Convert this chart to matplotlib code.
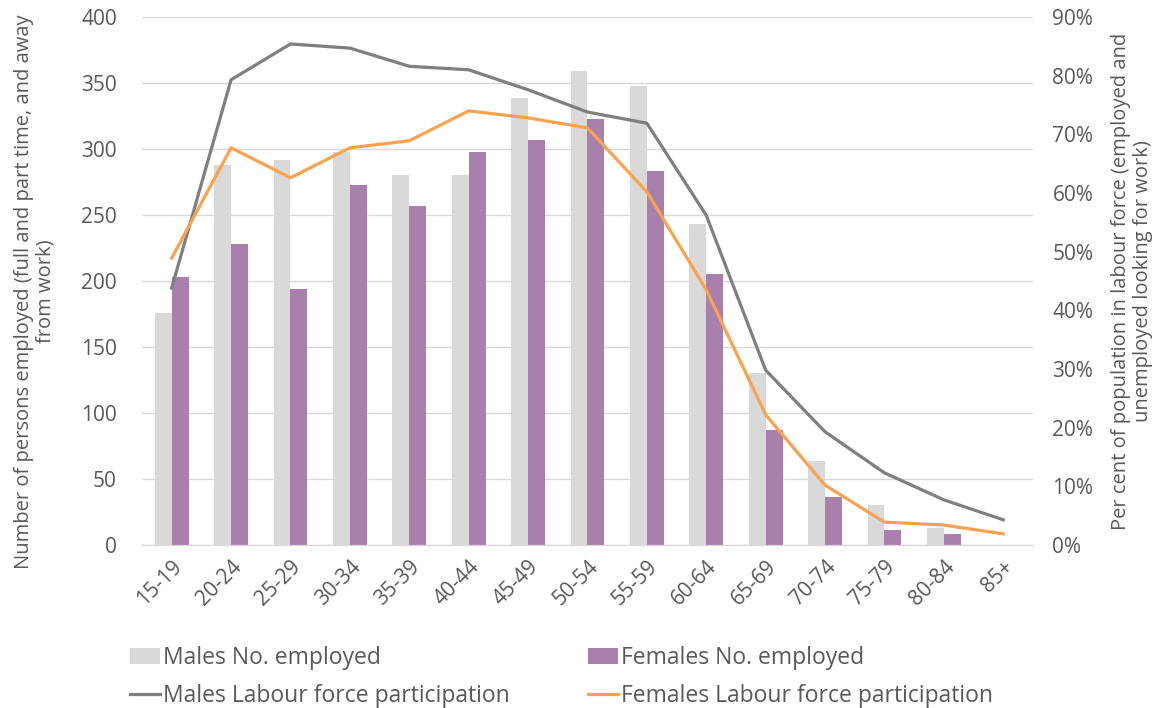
import numpy as np
import matplotlib
matplotlib.use('Agg')
import matplotlib.pyplot as plt
from matplotlib.ticker import FuncFormatter, MultipleLocator

# Age groups
age_groups = ['15-19', '20-24', '25-29', '30-34', '35-39', '40-44', '45-49', '50-54',
              '55-59', '60-64', '65-69', '70-74', '75-79', '80-84', '85+']

# Number employed (left axis)
males_employed = [176, 288, 292, 298, 280, 280, 339, 359, 348, 243, 130, 64, 30, 13, 0]
females_employed = [203, 228, 194, 273, 257, 298, 307, 323, 283, 205, 87, 36, 11, 8, 0]

# Labour force participation, per cent (right axis)
males_lfp = [43.8, 79.3, 85.4, 84.7, 81.6, 81.0, 77.6, 73.8, 71.9, 56.2, 29.8, 19.3, 12.3, 7.7, 4.3]
females_lfp = [48.9, 67.7, 62.6, 67.7, 68.9, 74.0, 72.8, 71.1, 60.2, 43.5, 22.2, 10.2, 3.9, 3.4, 1.9]

plt.rcParams['font.family'] = ['Open Sans', 'DejaVu Sans']
text_color = '#595959'
grid_color = '#d9d9d9'

fig = plt.figure(figsize=(11.58, 7.08), dpi=100, facecolor='white')
ax = fig.add_axes([0.1226, 0.2302, 0.7694, 0.7458])
ax2 = ax.twinx()

x = np.arange(len(age_groups))
bw = 0.285
ax.bar(x - bw / 2, males_employed, bw, color='#d9d9d9', label='Males No. employed', zorder=2)
ax.bar(x + bw / 2, females_employed, bw, color='#a97fac', label='Females No. employed', zorder=2)

ax2.plot(x, males_lfp, color='#7f7f7f', linewidth=2.3, label='Males Labour force participation')
ax2.plot(x, females_lfp, color='#fba24e', linewidth=2.3, label='Females Labour force participation')

ax.set_xlim(-0.5, len(age_groups) - 0.5)
ax.set_ylim(0, 400)
ax2.set_ylim(0, 90)
ax.yaxis.set_major_locator(MultipleLocator(50))
ax2.yaxis.set_major_locator(MultipleLocator(10))
ax2.yaxis.set_major_formatter(FuncFormatter(lambda v, p: f'{int(v)}%'))

ax.grid(axis='y', color=grid_color, linewidth=1, zorder=0)
ax.set_axisbelow(True)

ax.set_xticks(x)
ax.set_xticklabels(age_groups, rotation=45, ha='right', rotation_mode='anchor')

for a in (ax, ax2):
    for side in ['top', 'left', 'right']:
        a.spines[side].set_visible(False)
    a.spines['bottom'].set_color(grid_color)
    a.tick_params(length=0, labelsize=15, colors=text_color)
ax.tick_params(axis='x', pad=8)
ax.tick_params(axis='y', pad=18)
ax2.tick_params(axis='y', pad=14)

ax.set_ylabel('Number of persons employed (full and part time, and away\nfrom work)',
              fontsize=14.5, color=text_color, linespacing=1.1)
ax.yaxis.set_label_coords(-0.097, 0.48)
ax2.set_ylabel('Per cent of population in labour force (employed and\nunemployed looking for work)',
               fontsize=14.5, color=text_color, linespacing=1.1)
ax2.yaxis.set_label_coords(1.088, 0.5)

# legend rows: bars first, then lines
h1, l1 = ax.get_legend_handles_labels()
h2, l2 = ax2.get_legend_handles_labels()
handles = [h1[0], h2[0], h1[1], h2[1]]
labels = [l1[0], l2[0], l1[1], l2[1]]
fig.legend(handles, labels, ncol=2, loc='lower left', bbox_to_anchor=(0.1123, 0.0),
           frameon=False, fontsize=16.5, labelcolor=text_color, handlelength=1.3,
           handletextpad=0.15, columnspacing=3.4, labelspacing=0.6,
           borderpad=0, borderaxespad=0)

plt.savefig('out.png', dpi=100, facecolor='white')
plt.close()
